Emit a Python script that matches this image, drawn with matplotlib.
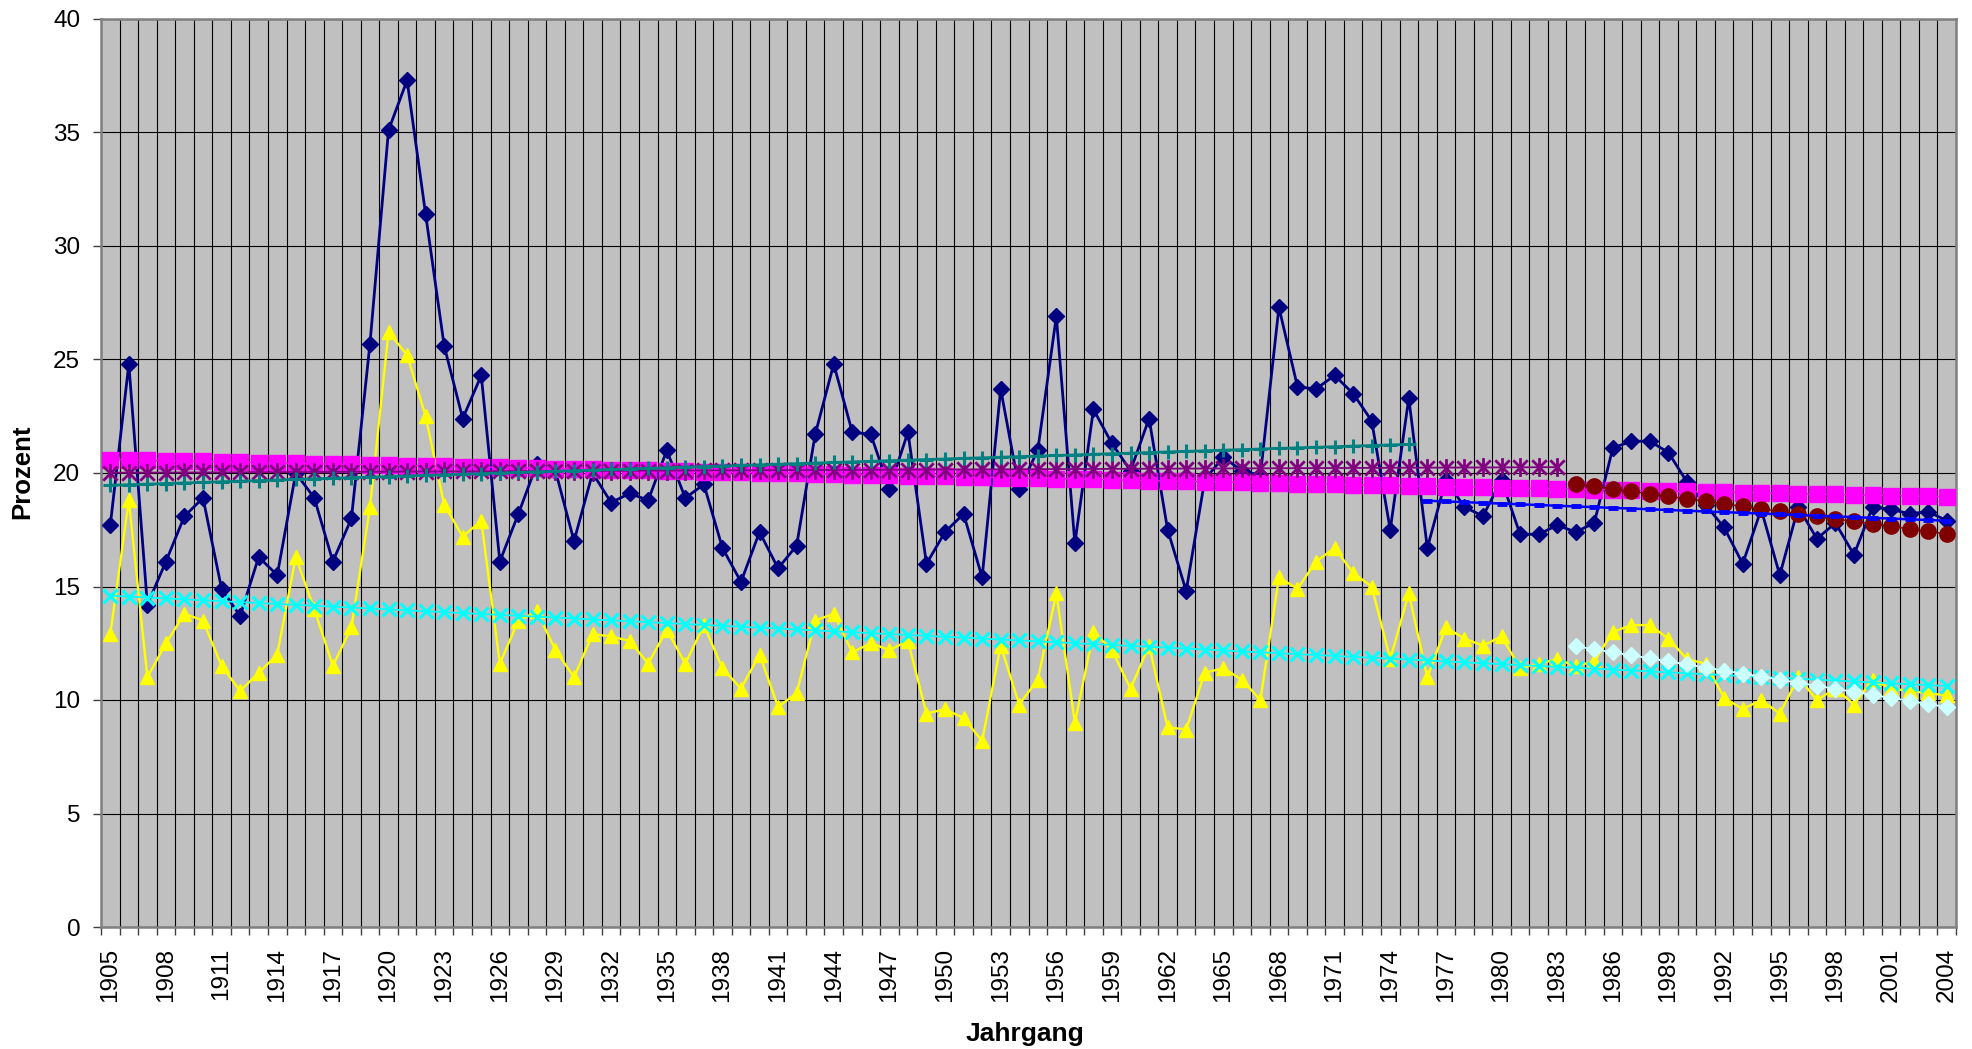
import numpy as np
import matplotlib
matplotlib.use("Agg")
import matplotlib.pyplot as plt
from matplotlib.path import Path

plt.rcParams["font.family"] = ["Liberation Sans", "DejaVu Sans"]

# Birth cohorts (category axis)
years = list(range(1905, 2005))

# Share per cohort, first series (navy diamonds)
anteil_a = [
    17.7, 24.8, 14.2, 16.1, 18.1, 18.9, 14.9, 13.7, 16.3, 15.5,
    20.0, 18.9, 16.1, 18.0, 25.7, 35.1, 37.3, 31.4, 25.6, 22.4,
    24.3, 16.1, 18.2, 20.4, 20.1, 17.0, 20.0, 18.7, 19.1, 18.8,
    21.0, 18.9, 19.5, 16.7, 15.2, 17.4, 15.8, 16.8, 21.7, 24.8,
    21.8, 21.7, 19.3, 21.8, 16.0, 17.4, 18.2, 15.4, 23.7, 19.3,
    21.0, 26.9, 16.9, 22.8, 21.3, 20.1, 22.4, 17.5, 14.8, 19.7,
    20.7, 20.1, 19.9, 27.3, 23.8, 23.7, 24.3, 23.5, 22.3, 17.5,
    23.3, 16.7, 19.7, 18.5, 18.1, 19.7, 17.3, 17.3, 17.7, 17.4,
    17.8, 21.1, 21.4, 21.4, 20.9, 19.6, 18.6, 17.6, 16.0, 18.4,
    15.5, 18.5, 17.1, 17.8, 16.4, 18.5, 18.4, 18.2, 18.3, 17.9,
]

# Share per cohort, second series (yellow triangles)
anteil_b = [
    12.9, 18.8, 11.0, 12.5, 13.8, 13.5, 11.5, 10.4, 11.2, 12.0,
    16.3, 14.0, 11.5, 13.2, 18.5, 26.2, 25.2, 22.5, 18.6, 17.2,
    17.9, 11.6, 13.5, 13.9, 12.2, 11.0, 12.9, 12.8, 12.6, 11.6,
    13.1, 11.6, 13.3, 11.4, 10.5, 12.0, 9.7, 10.3, 13.5, 13.8,
    12.1, 12.5, 12.2, 12.6, 9.4, 9.6, 9.2, 8.2, 12.4, 9.8,
    10.9, 14.7, 9.0, 13.0, 12.2, 10.5, 12.4, 8.8, 8.7, 11.2,
    11.4, 10.9, 10.0, 15.4, 14.9, 16.1, 16.7, 15.6, 15.0, 11.8,
    14.7, 11.0, 13.2, 12.7, 12.4, 12.8, 11.4, 11.6, 11.8, 11.5,
    11.7, 13.0, 13.3, 13.3, 12.7, 11.8, 11.6, 10.1, 9.6, 10.0,
    9.4, 11.0, 10.0, 10.5, 9.8, 10.9, 10.5, 10.4, 10.3, 10.2,
]

# Periods of the linear trend lines
trend_a_gesamt = (1905, 2004)
trend_a_bis_1983 = (1905, 1983)
trend_a_bis_1975 = (1905, 1975)
trend_a_ab_1976 = (1976, 2004)
trend_a_ab_1984 = (1984, 2004)
trend_b_gesamt = (1905, 2004)
trend_b_ab_1984 = (1984, 2004)

y_ticks = [0, 5, 10, 15, 20, 25, 30, 35, 40]
x_label_years = years[::3]


def linear_trend(values, period):
    """Least-squares line over the cohorts in `period`, at category positions."""
    start, end = period
    yrs = np.arange(start, end + 1)
    vals = np.asarray(values, dtype=float)[yrs - years[0]]
    slope, intercept = np.polyfit(yrs, vals, 1)
    return yrs - years[0], slope * yrs + intercept


# asterisk marker: an x crossed by a vertical stroke
asterisk = Path(
    [(-1, -1), (1, 1), (-1, 1), (1, -1), (0, -1.3), (0, 1.3)],
    [Path.MOVETO, Path.LINETO, Path.MOVETO, Path.LINETO, Path.MOVETO, Path.LINETO],
)

W, H = 1972, 1049
fig = plt.figure(figsize=(W / 100, H / 100), dpi=100)
fig.patch.set_facecolor("white")
ax = fig.add_axes([101 / W, 1 - 927 / H, 1855 / W, 908 / H])
ax.set_facecolor("#C0C0C0")

pos = np.arange(len(years))

ax.plot(pos, anteil_a, color="#000080", lw=2.0, marker="D", ms=7.8,
        mfc="#000080", mec="#000080", zorder=3)
ax.plot(pos, anteil_b, color="#FFFF00", lw=1.7, marker="^", ms=10.5,
        mfc="#FFFF00", mec="#FFFF00", zorder=4)

x, y = linear_trend(anteil_a, trend_a_gesamt)
ax.plot(x, y, color="#FF00FF", lw=1.0, marker="s", ms=11,
        mfc="#FF00FF", mec="#FF00FF", zorder=5)
x, y = linear_trend(anteil_a, trend_a_bis_1983)
ax.plot(x, y, color="#800080", lw=1.3, marker=asterisk, ms=13.5, mew=2.0,
        mfc="none", mec="#800080", zorder=6)
x, y = linear_trend(anteil_a, trend_a_bis_1975)
ax.plot(x, y, color="#008080", lw=2.0, marker="+", ms=10, mew=2.2,
        mec="#008080", zorder=7)
x, y = linear_trend(anteil_b, trend_b_gesamt)
ax.plot(x, y, color="#00FFFF", lw=1.3, marker="x", ms=10, mew=2.2,
        mec="#00FFFF", zorder=8)
x, y = linear_trend(anteil_a, trend_a_ab_1984)
ax.plot(x, y, color="#800000", lw=1.0, marker="o", ms=11,
        mfc="#800000", mec="#800000", zorder=9)
x, y = linear_trend(anteil_a, trend_a_ab_1976)
ax.plot(x, y, color="#0000FF", lw=1.8, marker="_", ms=6.5, mew=3.5,
        mec="#0000FF", zorder=10)
x, y = linear_trend(anteil_b, trend_b_ab_1984)
ax.plot(x, y, color="#CCFFFF", lw=1.3, marker="D", ms=7.8,
        mfc="#CCFFFF", mec="#CCFFFF", zorder=11)

# axes, grid and ticks
ax.set_xlim(-0.5, len(years) - 0.5)
ax.set_ylim(0, 40)
ax.set_axisbelow(True)

ax.set_yticks(y_ticks)
ax.set_yticklabels([str(v) for v in y_ticks], fontsize=17.5)
ax.yaxis.grid(True, color="black", lw=0.8)

ax.set_xticks([years.index(yr) for yr in x_label_years])
ax.set_xticklabels([str(yr) for yr in x_label_years], rotation=90, fontsize=17.5)
ax.set_xticks(np.arange(len(years) + 1) - 0.5, minor=True)
ax.xaxis.grid(True, which="minor", color="black", lw=0.8)
ax.xaxis.grid(False, which="major")

ax.tick_params(axis="x", which="major", length=0, pad=15)
ax.tick_params(axis="x", which="minor", length=6, width=1.0,
               direction="out", color="#404040")
ax.tick_params(axis="y", which="major", length=6, width=1.0,
               direction="out", color="#404040", pad=9)

for side in ("left", "bottom", "top", "right"):
    ax.spines[side].set_color("#808080")
    ax.spines[side].set_linewidth(1.8)

fig.text(1025 / W, 1 - 1034 / H, "Jahrgang", ha="center", va="center",
         fontsize=19, fontweight="bold")
fig.text(22 / W, 1 - 472 / H, "Prozent", ha="center", va="center",
         rotation=90, fontsize=18.5, fontweight="bold")

fig.savefig("out.png", dpi=100)
